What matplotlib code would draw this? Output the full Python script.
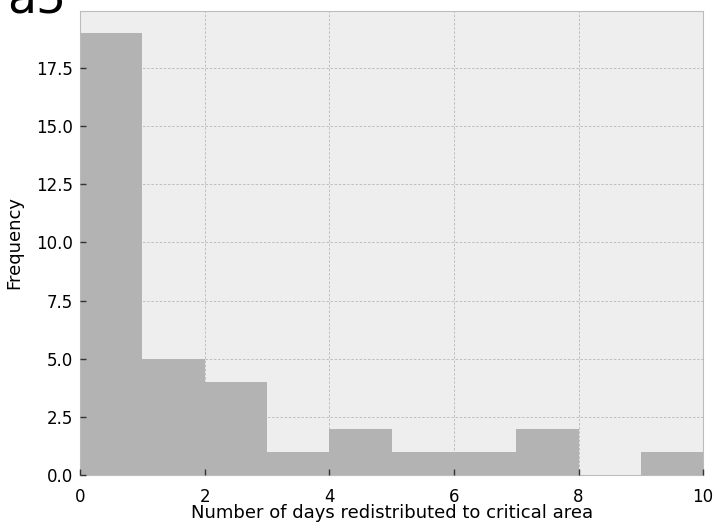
import matplotlib
matplotlib.use("Agg")
import matplotlib.pyplot as plt

# 每个整数区间内的天数频次
bin_edges = [0, 1, 2, 3, 4, 5, 6, 7, 8, 9, 10]
counts = [19, 5, 4, 1, 2, 1, 1, 2, 0, 1]

plt.style.use("bmh")
fig = plt.figure(figsize=(7.16, 5.28), dpi=100)
ax = fig.add_axes([0.112, 0.10, 0.87, 0.88])

ax.hist(bin_edges[:-1], bins=bin_edges, weights=counts, color="#b3b3b3", zorder=1)
ax.set_xlim(0, 10)
ax.set_ylim(0, 19.95)

# 刻度画在柱子上方，网格线放在柱子下方（手动画）
ax.set_axisbelow(False)
ax.grid(False)
grid_style = dict(linestyle=(0, (3, 2)), linewidth=0.6, color="#b8b8b8", zorder=0.5)
for x in ax.get_xticks():
    if 0 < x < 10:
        ax.axvline(x, **grid_style)
for y in ax.get_yticks():
    if 0 < y < 19.95:
        ax.axhline(y, **grid_style)

# 刻度朝内，标签离轴稍远
ax.tick_params(direction="in", length=4, width=1, color="#333333", labelsize=12)
ax.tick_params(axis="x", pad=9)
ax.tick_params(axis="y", pad=5)

ax.set_xlabel("Number of days redistributed to critical area", fontsize=13, labelpad=-1)
ax.set_ylabel("Frequency", fontsize=13, labelpad=9)

fig.text(0.01, 1.043, "a5", fontsize=34, ha="left", va="top")

fig.savefig("out.png", dpi=100)
